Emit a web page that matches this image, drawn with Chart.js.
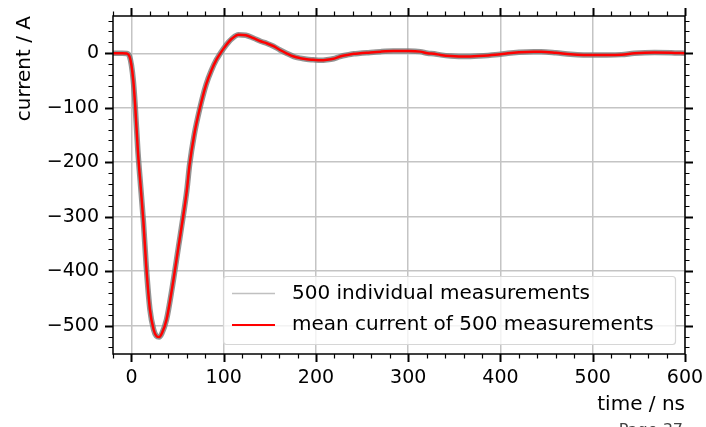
<!DOCTYPE html>
<html>
<head>
<meta charset="utf-8">
<script src="https://cdn.jsdelivr.net/npm/chart.js@4/dist/chart.umd.min.js"></script>
<style>
  html, body { margin: 0; padding: 0; background: #fff; }
  canvas { display: block; }
</style>
</head>
<body>
<canvas id="grafico" width="706" height="427"></canvas>
<script>
// dados: tempo em ns, corrente em A
const tempo = [-20, -10, -5, -2, 0, 2, 4, 7, 10, 13, 16, 20, 24, 27, 30, 33, 38, 44, 51, 56,
  60, 63, 68, 74, 81, 87, 92, 96, 100, 105, 109, 116, 124, 132, 140, 147, 154, 161, 168, 176,
  183, 190, 197, 205, 212, 219, 226, 234, 241, 248, 255, 270, 284, 300, 313, 321, 328, 335, 346, 364,
  386, 400, 408, 420, 436, 444, 460, 476, 490, 502, 515, 531, 545, 567, 585, 600];
const correnteMedia = [0, 0, -0.5, -6, -22, -50, -95, -180, -245, -310, -390, -470, -507, -519, -521, -514, -489, -432, -355, -300,
  -252, -205, -150, -102, -57, -30, -12, -1, 9, 20, 27, 34, 33, 28, 22, 18, 13, 6, 0, -6,
  -9, -11, -12, -13, -12, -10, -6, -3, -1, 0, 1, 3, 4, 4, 3, 0, -1, -3, -5, -6,
  -4, -2, 0, 2, 3, 3, 1, -2, -3, -3, -3, -2.5, 0, 1.5, 1, 0];

const ticksX = [0, 100, 200, 300, 400, 500, 600];
const ticksY = [-500, -400, -300, -200, -100, 0];
const rotulos = ['500 individual measurements', 'mean current of 500 measurements'];

const pontos = tempo.map((t, i) => ({ x: t, y: correnteMedia[i] }));
const fonte = "'DejaVu Sans', sans-serif";

// zera o padding extra que o Chart.js reserva para os rótulos
function semPadding(s) {
  s.paddingTop = 0; s.paddingBottom = 0; s.paddingLeft = 0; s.paddingRight = 0;
}

// ticks menores/maiores nos quatro lados, moldura e legenda dentro do gráfico
const molduraPlugin = {
  id: 'moldura',
  afterDraw(chart) {
    const { ctx, chartArea: a, scales: { x, y } } = chart;
    ctx.save();
    ctx.strokeStyle = '#000';
    for (let v = -20; v <= 600; v += 20) {
      const p = Math.round(x.getPixelForValue(v)) + 0.5;
      const maior = v % 100 === 0;
      const L = maior ? 8 : 4.5;
      ctx.lineWidth = maior ? 2 : 1.2;
      ctx.beginPath();
      ctx.moveTo(p, a.bottom); ctx.lineTo(p, a.bottom + L);
      ctx.moveTo(p, a.top); ctx.lineTo(p, a.top - L);
      ctx.stroke();
    }
    for (let v = -540; v <= 60; v += 20) {
      const p = Math.round(y.getPixelForValue(v)) + 0.5;
      const maior = v % 100 === 0;
      const L = maior ? 8 : 4.5;
      ctx.lineWidth = maior ? 2 : 1.2;
      ctx.beginPath();
      ctx.moveTo(a.left, p); ctx.lineTo(a.left - L, p);
      ctx.moveTo(a.right, p); ctx.lineTo(a.right + L, p);
      ctx.stroke();
    }
    ctx.lineWidth = 1.5;
    ctx.strokeRect(a.left, a.top, a.right - a.left, a.bottom - a.top);

    // legenda
    const bx = 223.5, by = 276.5, bw = 452, bh = 68;
    ctx.fillStyle = 'rgba(255,255,255,0.8)';
    ctx.strokeStyle = '#d6d6d6';
    ctx.lineWidth = 1.2;
    ctx.beginPath();
    ctx.roundRect(bx, by, bw, bh, 3);
    ctx.fill();
    ctx.stroke();
    ctx.lineWidth = 1.5;
    ctx.strokeStyle = '#c0c0c0';
    ctx.beginPath(); ctx.moveTo(232, 293.5); ctx.lineTo(275, 293.5); ctx.stroke();
    ctx.lineWidth = 2;
    ctx.strokeStyle = '#ff0000';
    ctx.beginPath(); ctx.moveTo(232, 325); ctx.lineTo(275, 325); ctx.stroke();
    ctx.fillStyle = '#000';
    ctx.font = '20px ' + fonte;
    ctx.textBaseline = 'middle';
    ctx.fillText(rotulos[0], 292, 294);
    ctx.fillText(rotulos[1], 292, 325);

    // resto de texto cortado no canto
    ctx.fillStyle = '#444';
    ctx.font = '16px ' + fonte;
    ctx.textAlign = 'right';
    ctx.textBaseline = 'top';
    ctx.fillText('Page 37', 683, 423);
    ctx.restore();
  }
};

const ctx = document.getElementById('grafico').getContext('2d');
const meuGrafico = new Chart(ctx, {
  type: 'line',
  data: {
    datasets: [{
      label: rotulos[0],
      data: pontos,
      order: 1,
      borderColor: 'rgba(120,120,120,0.8)',
      borderWidth: 5.5,
      pointRadius: 0,
      cubicInterpolationMode: 'monotone',
      fill: false
    }, {
      label: rotulos[1],
      data: pontos,
      order: 0,
      borderColor: '#ff0000',
      borderWidth: 2.5,
      pointRadius: 0,
      cubicInterpolationMode: 'monotone',
      fill: false
    }]
  },
  options: {
    responsive: false,
    animation: false,
    layout: { padding: { left: 0, top: 16, right: 21, bottom: 0 } },
    plugins: { legend: { display: false }, tooltip: { enabled: false } },
    scales: {
      x: {
        type: 'linear',
        min: -20,
        max: 600,
        afterFit: s => { s.height = 73; semPadding(s); },
        afterBuildTicks: s => { s.ticks = ticksX.map(v => ({ value: v })); },
        border: { display: false },
        grid: { color: '#c4c4c4', lineWidth: 1.5, drawTicks: false },
        ticks: { color: '#000', padding: 13, maxRotation: 0, font: { family: fonte, size: 19 } },
        title: {
          display: true, text: 'time / ns', align: 'end', color: '#000',
          font: { family: fonte, size: 20 }, padding: { top: 0, bottom: 10 }
        }
      },
      y: {
        min: -552,
        max: 68.4,
        afterFit: s => { s.width = 113; semPadding(s); },
        afterBuildTicks: s => { s.ticks = ticksY.map(v => ({ value: v })); },
        border: { display: false },
        grid: { color: '#c4c4c4', lineWidth: 1.5, drawTicks: false },
        ticks: {
          color: '#000', padding: 14, font: { family: fonte, size: 19 },
          callback: v => v < 0 ? '\u2212' + Math.abs(v) : String(v)
        },
        title: {
          display: true, text: 'current / A', align: 'end', color: '#000',
          font: { family: fonte, size: 20 }, padding: { top: 13, bottom: 0 }
        }
      }
    }
  },
  plugins: [molduraPlugin]
});
</script>
</body>
</html>
